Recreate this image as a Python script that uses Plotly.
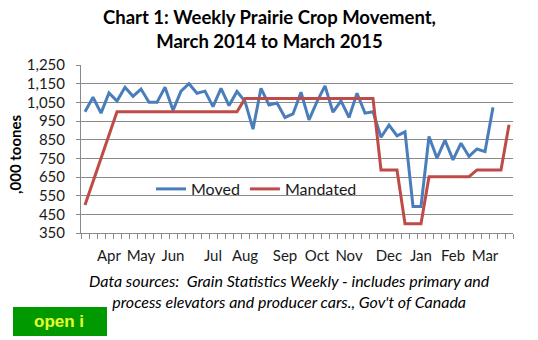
import plotly.graph_objects as go

# Weekly prairie crop movement, ,000 tonnes (one value per week, mid-March 2014 onward)
moved = [1000, 1077, 992, 1100, 1057, 1131, 1082, 1121, 1050, 1050,
         1131, 1007, 1110, 1150, 1099, 1110, 1027, 1125, 1033, 1108,
         1055, 906, 1125, 1036, 1046, 969, 988, 1104, 956, 1054,
         1138, 997, 1058, 969, 1099, 992, 1000, 863, 928, 871,
         892, 492, 492, 867, 751, 847, 742, 831, 760, 800,
         786, 1023]

# Mandated minimum volumes; None where no mandate value was set for the week
mandated = [500, None, None, None] + [1000] * 16 + [1070] * 17 + [688] * 3 + \
           [400] * 3 + [652] * 6 + [688] * 4 + [930]

n_weeks = 54
month_pos = [3, 7, 11, 16, 20, 25, 29, 33, 38, 42, 46, 50]
month_labels = ["Apr", "May", "Jun", "Jul", "Aug", "Sep", "Oct", "Nov",
                "Dec", "Jan", "Feb", "Mar"]
y_ticks = list(range(350, 1251, 100))
y_tick_text = [f"{v:,}" for v in y_ticks]

W, H = 538, 340
L, R, T, B = 81, 25, 65, 107
pw, ph = W - L - R, H - T - B


def px(x):
    return (x - L) / pw


def py(y):
    return (H - B - y) / ph


GRID = "#8a8a8a"
FONT = "Lato, 'Noto Sans', sans-serif"

fig = go.Figure()
fig.add_trace(go.Scatter(
    x=list(range(len(moved))), y=moved, name="Moved", mode="lines",
    line=dict(color="#4a7ebb", width=3)))
fig.add_trace(go.Scatter(
    x=list(range(len(mandated))), y=mandated, name="Mandated", mode="lines",
    connectgaps=True, line=dict(color="#be4b48", width=3)))

fig.update_layout(
    width=W, height=H,
    margin=dict(l=L, r=R, t=T, b=B, pad=0),
    paper_bgcolor="white", plot_bgcolor="white",
    font=dict(family=FONT, color="#1a1a1a", size=15),
    legend=dict(
        orientation="h", x=px(151), xanchor="left", y=py(189), yanchor="middle",
        bgcolor="rgba(0,0,0,0)", font=dict(family=FONT, size=16, color="#1a1a1a"),
        itemwidth=30, tracegroupgap=0),
    showlegend=True,
)

fig.update_xaxes(
    range=[-0.5, n_weeks - 0.5], tickmode="array",
    tickvals=month_pos, ticktext=month_labels, ticks="",
    ticklabelstandoff=9,
    showgrid=False, zeroline=False,
    showline=True, linecolor=GRID, linewidth=1,
    tickfont=dict(family=FONT, size=15, color="#1a1a1a"),
    minor=dict(tickmode="linear", tick0=-0.5, dtick=1, ticks="outside",
               ticklen=5, tickcolor=GRID, tickwidth=1, showgrid=False),
)
fig.update_yaxes(
    range=[350, 1250], tickmode="array", tickvals=y_ticks, ticktext=y_tick_text,
    ticks="outside", ticklen=4, tickcolor=GRID, ticklabelstandoff=8,
    showgrid=True, gridcolor=GRID, gridwidth=1, zeroline=False,
    showline=True, linecolor=GRID, linewidth=1,
    tickfont=dict(family=FONT, size=15, color="#1a1a1a"),
)

fig.add_annotation(
    text="<b>Chart 1: Weekly Prairie Crop Movement,<br>March 2014 to March 2015</b>",
    showarrow=False, xref="paper", yref="paper", x=px(269), y=py(4),
    xanchor="center", yanchor="top", align="center",
    font=dict(family=FONT, size=18.5, color="#000000"))

fig.add_annotation(
    text="<b>,000 toones</b>", textangle=-90, showarrow=False,
    xref="paper", yref="paper", x=px(15), y=py(155),
    xanchor="center", yanchor="middle",
    font=dict(family=FONT, size=15, color="#000000"))

fig.add_annotation(
    text="<i>Data sources:  Grain Statistics Weekly - includes primary and<br>"
         "process elevators and producer cars., Gov't of Canada</i>",
    showarrow=False, xref="paper", yref="paper", x=px(289), y=py(291),
    xanchor="center", yanchor="middle", align="center",
    font=dict(family=FONT, size=16, color="#000000"))

fig.add_shape(type="rect", xref="paper", yref="paper",
              x0=px(13), x1=px(107), y0=py(336), y1=py(307),
              fillcolor="#009a00", line=dict(width=0), layer="above")
fig.add_annotation(
    text="<b>open i</b>", showarrow=False, xref="paper", yref="paper",
    x=px(32), y=py(321), xanchor="left", yanchor="middle",
    font=dict(family="'Liberation Sans', Arial, sans-serif", size=17, color="#e8ff30"))

fig.write_html("out.html")
